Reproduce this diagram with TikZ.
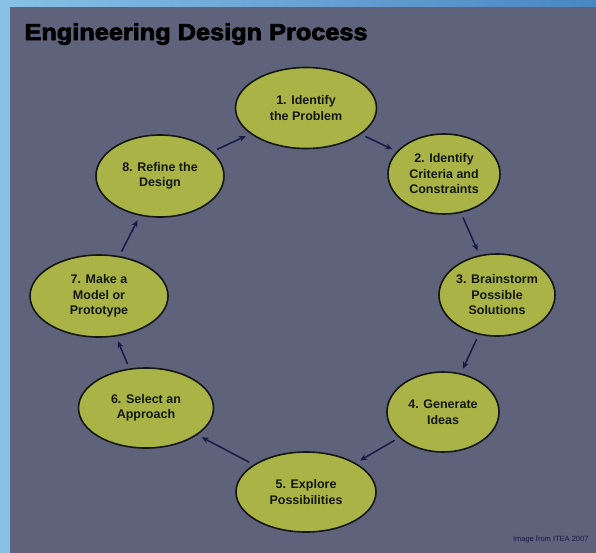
\documentclass[tikz,border=0pt]{standalone}
\usepackage{fontspec}
\setmainfont{Liberation Sans}
\newfontfamily\headfont[FakeBold=3.5,FakeStretch=1.1]{Liberation Sans Bold}
\usetikzlibrary{
  arrows.meta,
  shapes.geometric,
}
\definecolor{skyblue}{RGB}{136, 192, 230}
\definecolor{deepblue}{RGB}{74, 134, 194}
\definecolor{slate}{RGB}{94, 98, 122}
\definecolor{olive}{RGB}{170, 180, 70}
\definecolor{ink}{RGB}{20, 22, 18}
\definecolor{navy}{RGB}{22, 28, 70}
\tikzstyle{stage} = [
  ellipse,
  draw=ink,
  line width=1.6pt,
  fill=olive,
  inner sep=0pt,
  align=center,
  text=ink,
  font=\bfseries\fontsize{12.5}{15.5}\selectfont,
]
\tikzstyle{arrow} = [
  -{Stealth[length=7pt,width=6pt]},
  line width=1.5pt,
  navy,
  shorten >=5pt,
  shorten <=5pt,
]
\begin{document}
\begin{tikzpicture}[x=1pt,y=-1pt]
			\useasboundingbox (0,0) rectangle (596,552);
			\shade[left color=skyblue,right color=deepblue] (0,0) rectangle (596,552);
			\fill[slate] (10,7) rectangle (597,553);

			\node[anchor=base west,font=\headfont\fontsize{23}{23}\selectfont,text=black] (title) at (21,40) {Engineering Design Process};

			\node[stage,minimum width=141,minimum height=81] (s1) at (306,108) {1. Identify\\the Problem};
			\node[stage,minimum width=112,minimum height=80] (s2) at (444,174) {2. Identify\\Criteria and\\Constraints};
			\node[stage,minimum width=116,minimum height=82] (s3) at (497,295) {3. Brainstorm\\Possible\\Solutions};
			\node[stage,minimum width=112,minimum height=80] (s4) at (443,412) {4. Generate\\Ideas};
			\node[stage,minimum width=140,minimum height=80] (s5) at (306,492) {5. Explore\\Possibilities};
			\node[stage,minimum width=135,minimum height=80] (s6) at (146,408) {6. Select an\\Approach};
			\node[stage,minimum width=138,minimum height=82] (s7) at (99,296) {7. Make a\\Model or\\Prototype};
			\node[stage,minimum width=128,minimum height=82] (s8) at (160,176) {8. Refine the\\Design};

			\node[anchor=base east,font=\fontsize{7.5}{7.5}\selectfont,text=navy] (credit) at (592,541) {Image from ITEA 2007};

			\draw[arrow] (s1) -- (s2);
			\draw[arrow] (s2) -- (s3);
			\draw[arrow] (s3) -- (s4);
			\draw[arrow] (s4) -- (s5);
			\draw[arrow] (s5) -- (s6);
			\draw[arrow] (s6) -- (s7);
			\draw[arrow] (s7) -- (s8);
			\draw[arrow] (s8) -- (s1);
		\end{tikzpicture}
\end{document}
